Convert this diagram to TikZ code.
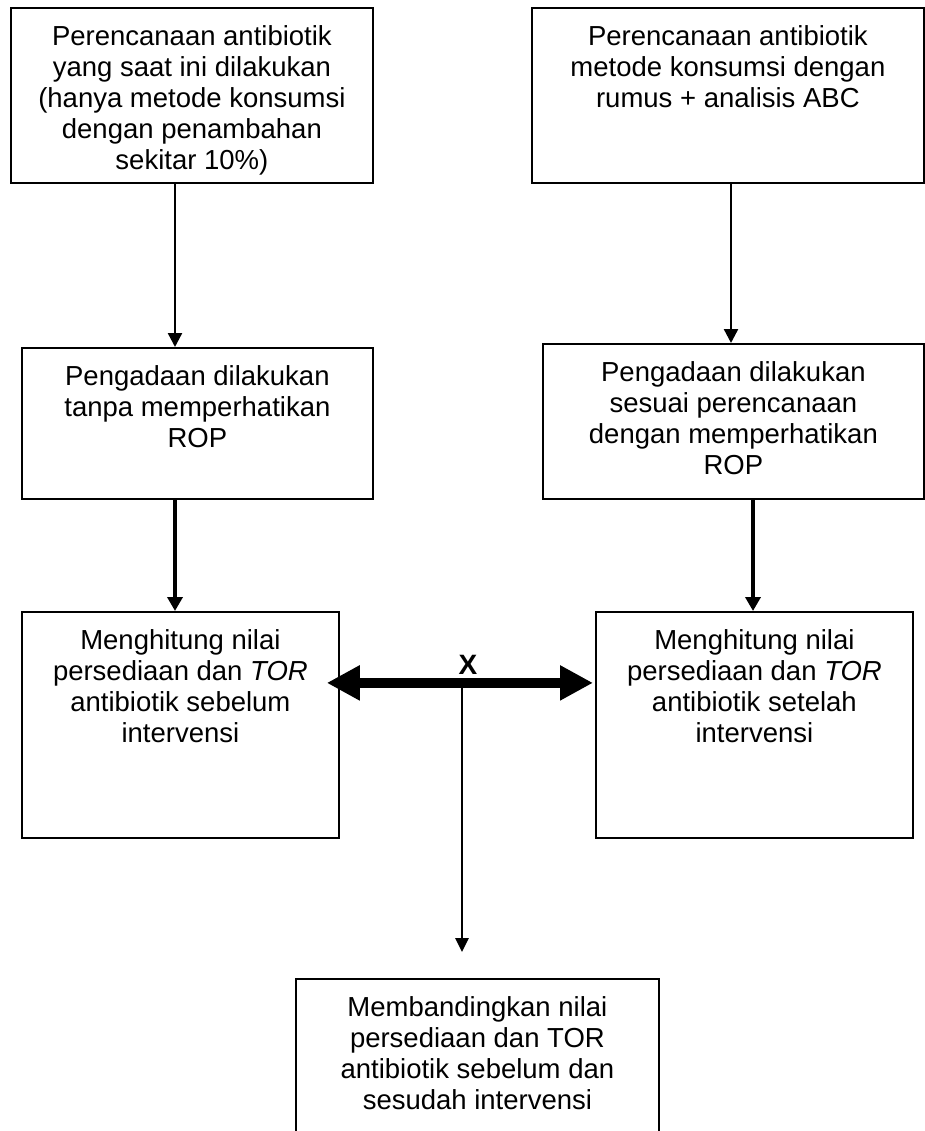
\documentclass[tikz,border=0pt]{standalone}
\usepackage{fontspec}
\setmainfont{Liberation Sans}
\usetikzlibrary{arrows.meta,calc}

% top-aligned, centred text block of fixed size
\newcommand\topblock[3]{\parbox[c][#2][t]{#1}{\centering\rule{0pt}{38pt}#3}}

\begin{document}
\begin{tikzpicture}[x=1pt,y=-1pt,
  flowbox/.style={draw, line width=1.8pt, inner sep=0pt, anchor=north west,
    font=\fontsize{27.5}{31}\selectfont},
  thinarrow/.style={line width=2.4pt, -{Triangle[length=14pt,width=14pt]}},
  thickarrow/.style={line width=4pt, -{Triangle[length=14pt,width=15pt]}},
  bigarrow/.style={line width=10pt,
    {Triangle[length=33pt,width=33pt]}-{Triangle[length=33pt,width=33pt]}},
  joinline/.style={line width=2.8pt, -{Triangle[length=14pt,width=13pt]}}]

\path[use as bounding box, clip] (0,0) rectangle (925,1131);
\fill[white] (0,0) rectangle (925,1131);

% planning stage
\node[flowbox] (plannow) at (10,7) {\topblock{362pt}{175pt}{Perencanaan antibiotik\\
  yang saat ini dilakukan\\ (hanya metode konsumsi\\ dengan penambahan\\ sekitar 10\%)}};
\node[flowbox] (planabc) at (531,7) {\topblock{392pt}{175pt}{Perencanaan antibiotik\\
  metode konsumsi dengan\\ rumus + analisis ABC}};

% procurement stage
\node[flowbox] (procnow) at (21,347) {\topblock{351pt}{151pt}{Pengadaan dilakukan\\
  tanpa memperhatikan\\ ROP}};
\node[flowbox] (procrop) at (542,343) {\topblock{381pt}{155pt}{Pengadaan dilakukan\\
  sesuai perencanaan\\ dengan memperhatikan\\ ROP}};

% evaluation stage
\node[flowbox] (before) at (21,611) {\topblock{317pt}{226pt}{Menghitung nilai\\
  persediaan dan \textit{TOR}\\ antibiotik sebelum\\ intervensi}};
\node[flowbox] (after) at (595,611) {\topblock{317pt}{226pt}{Menghitung nilai\\
  persediaan dan \textit{TOR}\\ antibiotik setelah\\ intervensi}};

% comparison
\node[flowbox] (compare) at (295,978) {\topblock{363pt}{300pt}{Membandingkan nilai\\
  persediaan dan TOR\\ antibiotik sebelum dan\\ sesudah intervensi}};

% column positions of the vertical connectors
\coordinate (colA) at (175,0);
\coordinate (colB) at (731,0);
\coordinate (colC) at (753,0);
\coordinate (tee) at (462,682);

\draw[thinarrow] (plannow.south -| colA) -- (procnow.north -| colA);
\draw[thinarrow] (planabc.south -| colB) -- (procrop.north -| colB);
\draw[thickarrow] (procnow.south -| colA) -- (before.north -| colA);
\draw[thickarrow] (procrop.south -| colC) -- (after.north -| colC);

\draw[bigarrow] ([xshift=-13pt,yshift=42pt]before.east) -- ([xshift=-2pt,yshift=42pt]after.west);
\node[font=\fontsize{28}{32}\selectfont\bfseries] (xlab) at (468,665) {X};

\draw[joinline] (tee) -- ([yshift=26pt]compare.north -| tee);
\end{tikzpicture}
\end{document}
